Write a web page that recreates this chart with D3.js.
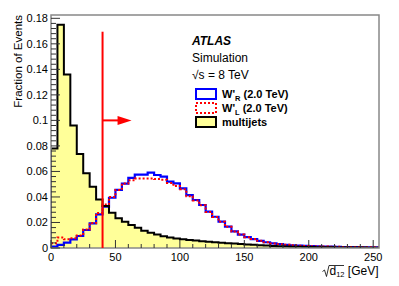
<!DOCTYPE html>
<html>
<head>
<meta charset="utf-8">
<script src="https://cdn.jsdelivr.net/npm/d3@7"></script>
<style>
  body { margin: 0; background: #fff; }
  svg { display: block; font-family: "Liberation Sans", Arial, sans-serif; }
</style>
</head>
<body>
<svg id="chart" width="399" height="286"></svg>
<script>
const width = 399;
const height = 286;
const binWidth = 5; // GeV

// bin contents, bins of 5 GeV starting at 0
const multijets = [
  0.078, 0.175, 0.136, 0.096, 0.0737, 0.0585, 0.048, 0.038, 0.033, 0.0277,
  0.0233, 0.0206, 0.018, 0.0159, 0.0136, 0.012, 0.0105, 0.0093, 0.0082, 0.0075,
  0.0069, 0.0063, 0.0058, 0.0053, 0.0049, 0.0045, 0.0041, 0.0038, 0.0035, 0.0032,
  0.0028, 0.0025, 0.0022, 0.0019, 0.0016, 0.0014, 0.0012, 0.001, 0.0009, 0.0008,
  0.0007, 0.0006, 0.0005, 0.0005, 0.0004, 0.0004, 0.0003, 0.0003, 0.0003, 0.0002, 0.0002
];
const wprimeR = [
  0.001, 0.0024, 0.0042, 0.0068, 0.0094, 0.0141, 0.0193, 0.0264, 0.0324, 0.0394,
  0.0455, 0.0505, 0.055, 0.0575, 0.0575, 0.059, 0.0572, 0.0559, 0.052, 0.0507,
  0.0468, 0.0415, 0.0376, 0.0337, 0.0285, 0.0245, 0.0206, 0.0167, 0.013, 0.0105,
  0.0085, 0.007, 0.0056, 0.0045, 0.0036, 0.003, 0.0025, 0.0021, 0.0018, 0.0016,
  0.0014, 0.0012, 0.0011, 0.001, 0.0009, 0.0008, 0.0007, 0.0007, 0.0006, 0.0006, 0.0005
];
const wprimeL = [
  0.0037, 0.0082, 0.0068, 0.0076, 0.0098, 0.0145, 0.0195, 0.0275, 0.034, 0.04,
  0.0455, 0.0505, 0.053, 0.0545, 0.0545, 0.0545, 0.054, 0.0535, 0.051, 0.0485,
  0.046, 0.0405, 0.0372, 0.0335, 0.0283, 0.0243, 0.0205, 0.0166, 0.013, 0.0105,
  0.0085, 0.007, 0.0056, 0.0045, 0.0036, 0.003, 0.0025, 0.0021, 0.0018, 0.0016,
  0.0014, 0.0012, 0.0011, 0.001, 0.0009, 0.0008, 0.0007, 0.0007, 0.0006, 0.0006, 0.0005
];

const xTicks = [0, 50, 100, 150, 200, 250];
const yTicks = [0, 0.02, 0.04, 0.06, 0.08, 0.1, 0.12, 0.14, 0.16, 0.18];
const yTickLabels = ["0", "0.02", "0.04", "0.06", "0.08", "0.1", "0.12", "0.14", "0.16", "0.18"];

const cut = 40;          // cut position, GeV
const cutTop = 0.1695;   // top of cut line
const arrowY = 0.1;
const arrowEnd = 62.5;

const frame = { left: 51, right: 379, top: 15, bottom: 248 };

const x = d3.scaleLinear().domain([0, 254.5]).range([frame.left, frame.right]);
const y = d3.scaleLinear().domain([0, 0.1826]).range([frame.bottom, frame.top]);

const svg = d3.select("#chart");

svg.append("defs").append("clipPath").attr("id", "plotClip")
  .append("rect")
  .attr("x", frame.left).attr("y", frame.top)
  .attr("width", frame.right - frame.left).attr("height", frame.bottom - frame.top);

function toPoints(values) {
  const pts = values.map((v, i) => [i * binWidth, v]);
  pts.push([values.length * binWidth, values[values.length - 1]]);
  return pts;
}

const stepLine = d3.line()
  .x(d => x(d[0])).y(d => y(d[1]))
  .curve(d3.curveStepAfter);

const stepArea = d3.area()
  .x(d => x(d[0])).y0(y(0)).y1(d => y(d[1]))
  .curve(d3.curveStepAfter);

const plot = svg.append("g").attr("clip-path", "url(#plotClip)");

plot.append("path")
  .attr("d", stepArea(toPoints(multijets)))
  .attr("fill", "#ffff99");

plot.append("path")
  .attr("d", stepLine(toPoints(wprimeR)))
  .attr("fill", "none")
  .attr("stroke", "#0000ff")
  .attr("stroke-width", 2.2);

plot.append("path")
  .attr("d", stepLine(toPoints(wprimeL)))
  .attr("fill", "none")
  .attr("stroke", "#ff0000")
  .attr("stroke-width", 2)
  .attr("stroke-dasharray", "2,2");

plot.append("path")
  .attr("d", stepLine([[0, 0]].concat(toPoints(multijets))))
  .attr("fill", "none")
  .attr("stroke", "#000")
  .attr("stroke-width", 2);

// frame
svg.append("rect")
  .attr("x", frame.left).attr("y", frame.top)
  .attr("width", frame.right - frame.left).attr("height", frame.bottom - frame.top)
  .attr("fill", "none")
  .attr("stroke", "#888")
  .attr("stroke-width", 1.5);

// x axis ticks (inside)
const axisCol = "#333";
const xMinor = d3.range(0, 255, 10);
svg.append("g").selectAll("line").data(xMinor).join("line")
  .attr("x1", d => x(d)).attr("x2", d => x(d))
  .attr("y1", frame.bottom)
  .attr("y2", d => frame.bottom - (xTicks.includes(d) ? 8 : 4))
  .attr("stroke", axisCol).attr("stroke-width", 1);

svg.append("g").selectAll("text").data(xTicks).join("text")
  .attr("x", d => x(d)).attr("y", 261)
  .attr("text-anchor", "middle")
  .attr("font-size", 11)
  .text(d => d);

// y axis ticks (inside)
const yMinor = d3.range(0, 0.1826, 0.004);
svg.append("g").selectAll("line").data(yMinor).join("line")
  .attr("x1", frame.left)
  .attr("x2", (d, i) => frame.left + (i % 5 === 0 ? 9 : 5))
  .attr("y1", d => y(d)).attr("y2", d => y(d))
  .attr("stroke", axisCol).attr("stroke-width", 1);

svg.append("g").selectAll("text").data(yTicks).join("text")
  .attr("x", 48).attr("y", d => y(d) + 4)
  .attr("text-anchor", "end")
  .attr("font-size", 11)
  .text((d, i) => yTickLabels[i]);

// axis titles
svg.append("text")
  .attr("transform", `translate(22,${frame.top}) rotate(-90)`)
  .attr("text-anchor", "end")
  .attr("font-size", 11.5)
  .text("Fraction of Events");

const xt = svg.append("g");
xt.append("path")
  .attr("d", "M322.5,271.5 L324.5,270 L326.5,276.5 L329,265.5 L344,265.5")
  .attr("fill", "none").attr("stroke", "#000").attr("stroke-width", 0.8);
const xtText = xt.append("text").attr("x", 329.5).attr("y", 275).attr("font-size", 12);
xtText.append("tspan").text("d");
xtText.append("tspan").attr("font-size", 7.5).attr("dy", 2).text("12");
xtText.append("tspan").attr("dy", -2).text(" [GeV]");

// cut line and arrow
svg.append("line")
  .attr("x1", x(cut)).attr("x2", x(cut))
  .attr("y1", y(0)).attr("y2", y(cutTop))
  .attr("stroke", "#ff0000").attr("stroke-width", 2);
svg.append("line")
  .attr("x1", x(cut)).attr("x2", x(arrowEnd) - 8)
  .attr("y1", y(arrowY)).attr("y2", y(arrowY))
  .attr("stroke", "#ff0000").attr("stroke-width", 2);
svg.append("path")
  .attr("d", `M${x(arrowEnd)},${y(arrowY)} L${x(arrowEnd) - 14},${y(arrowY) - 4.5} L${x(arrowEnd) - 14},${y(arrowY) + 4.5} Z`)
  .attr("fill", "#ff0000");

// labels
svg.append("text").attr("x", 192).attr("y", 45)
  .attr("font-size", 12).attr("font-weight", "bold").attr("font-style", "italic")
  .text("ATLAS");
svg.append("text").attr("x", 192).attr("y", 62)
  .attr("font-size", 12).text("Simulation");
svg.append("text").attr("x", 192).attr("y", 79)
  .attr("font-size", 12).text("√s = 8 TeV");

// legend
const legendItems = [
  { name: "W'", sub: "R", rest: " (2.0 TeV)", fill: "none", stroke: "#0000ff", dash: null },
  { name: "W'", sub: "L", rest: " (2.0 TeV)", fill: "none", stroke: "#ff0000", dash: "2,2" },
  { name: "multijets", sub: null, rest: "", fill: "#ffff99", stroke: "#000", dash: null }
];
const legend = svg.append("g").selectAll("g").data(legendItems).join("g")
  .attr("transform", (d, i) => `translate(196,${89 + i * 14})`);
legend.append("rect")
  .attr("width", 20).attr("height", 10)
  .attr("fill", d => d.fill === "none" ? "#fff" : d.fill)
  .attr("stroke", d => d.stroke)
  .attr("stroke-width", 2)
  .attr("stroke-dasharray", d => d.dash);
const lt = legend.append("text")
  .attr("x", 26).attr("y", 8.5)
  .attr("font-size", 11).attr("font-weight", "bold");
lt.append("tspan").text(d => d.name);
lt.filter(d => d.sub).append("tspan").attr("font-size", 7.5).attr("dy", 3).text(d => d.sub);
lt.filter(d => d.sub).append("tspan").attr("dy", -3).text(d => d.rest);
</script>
</body>
</html>
